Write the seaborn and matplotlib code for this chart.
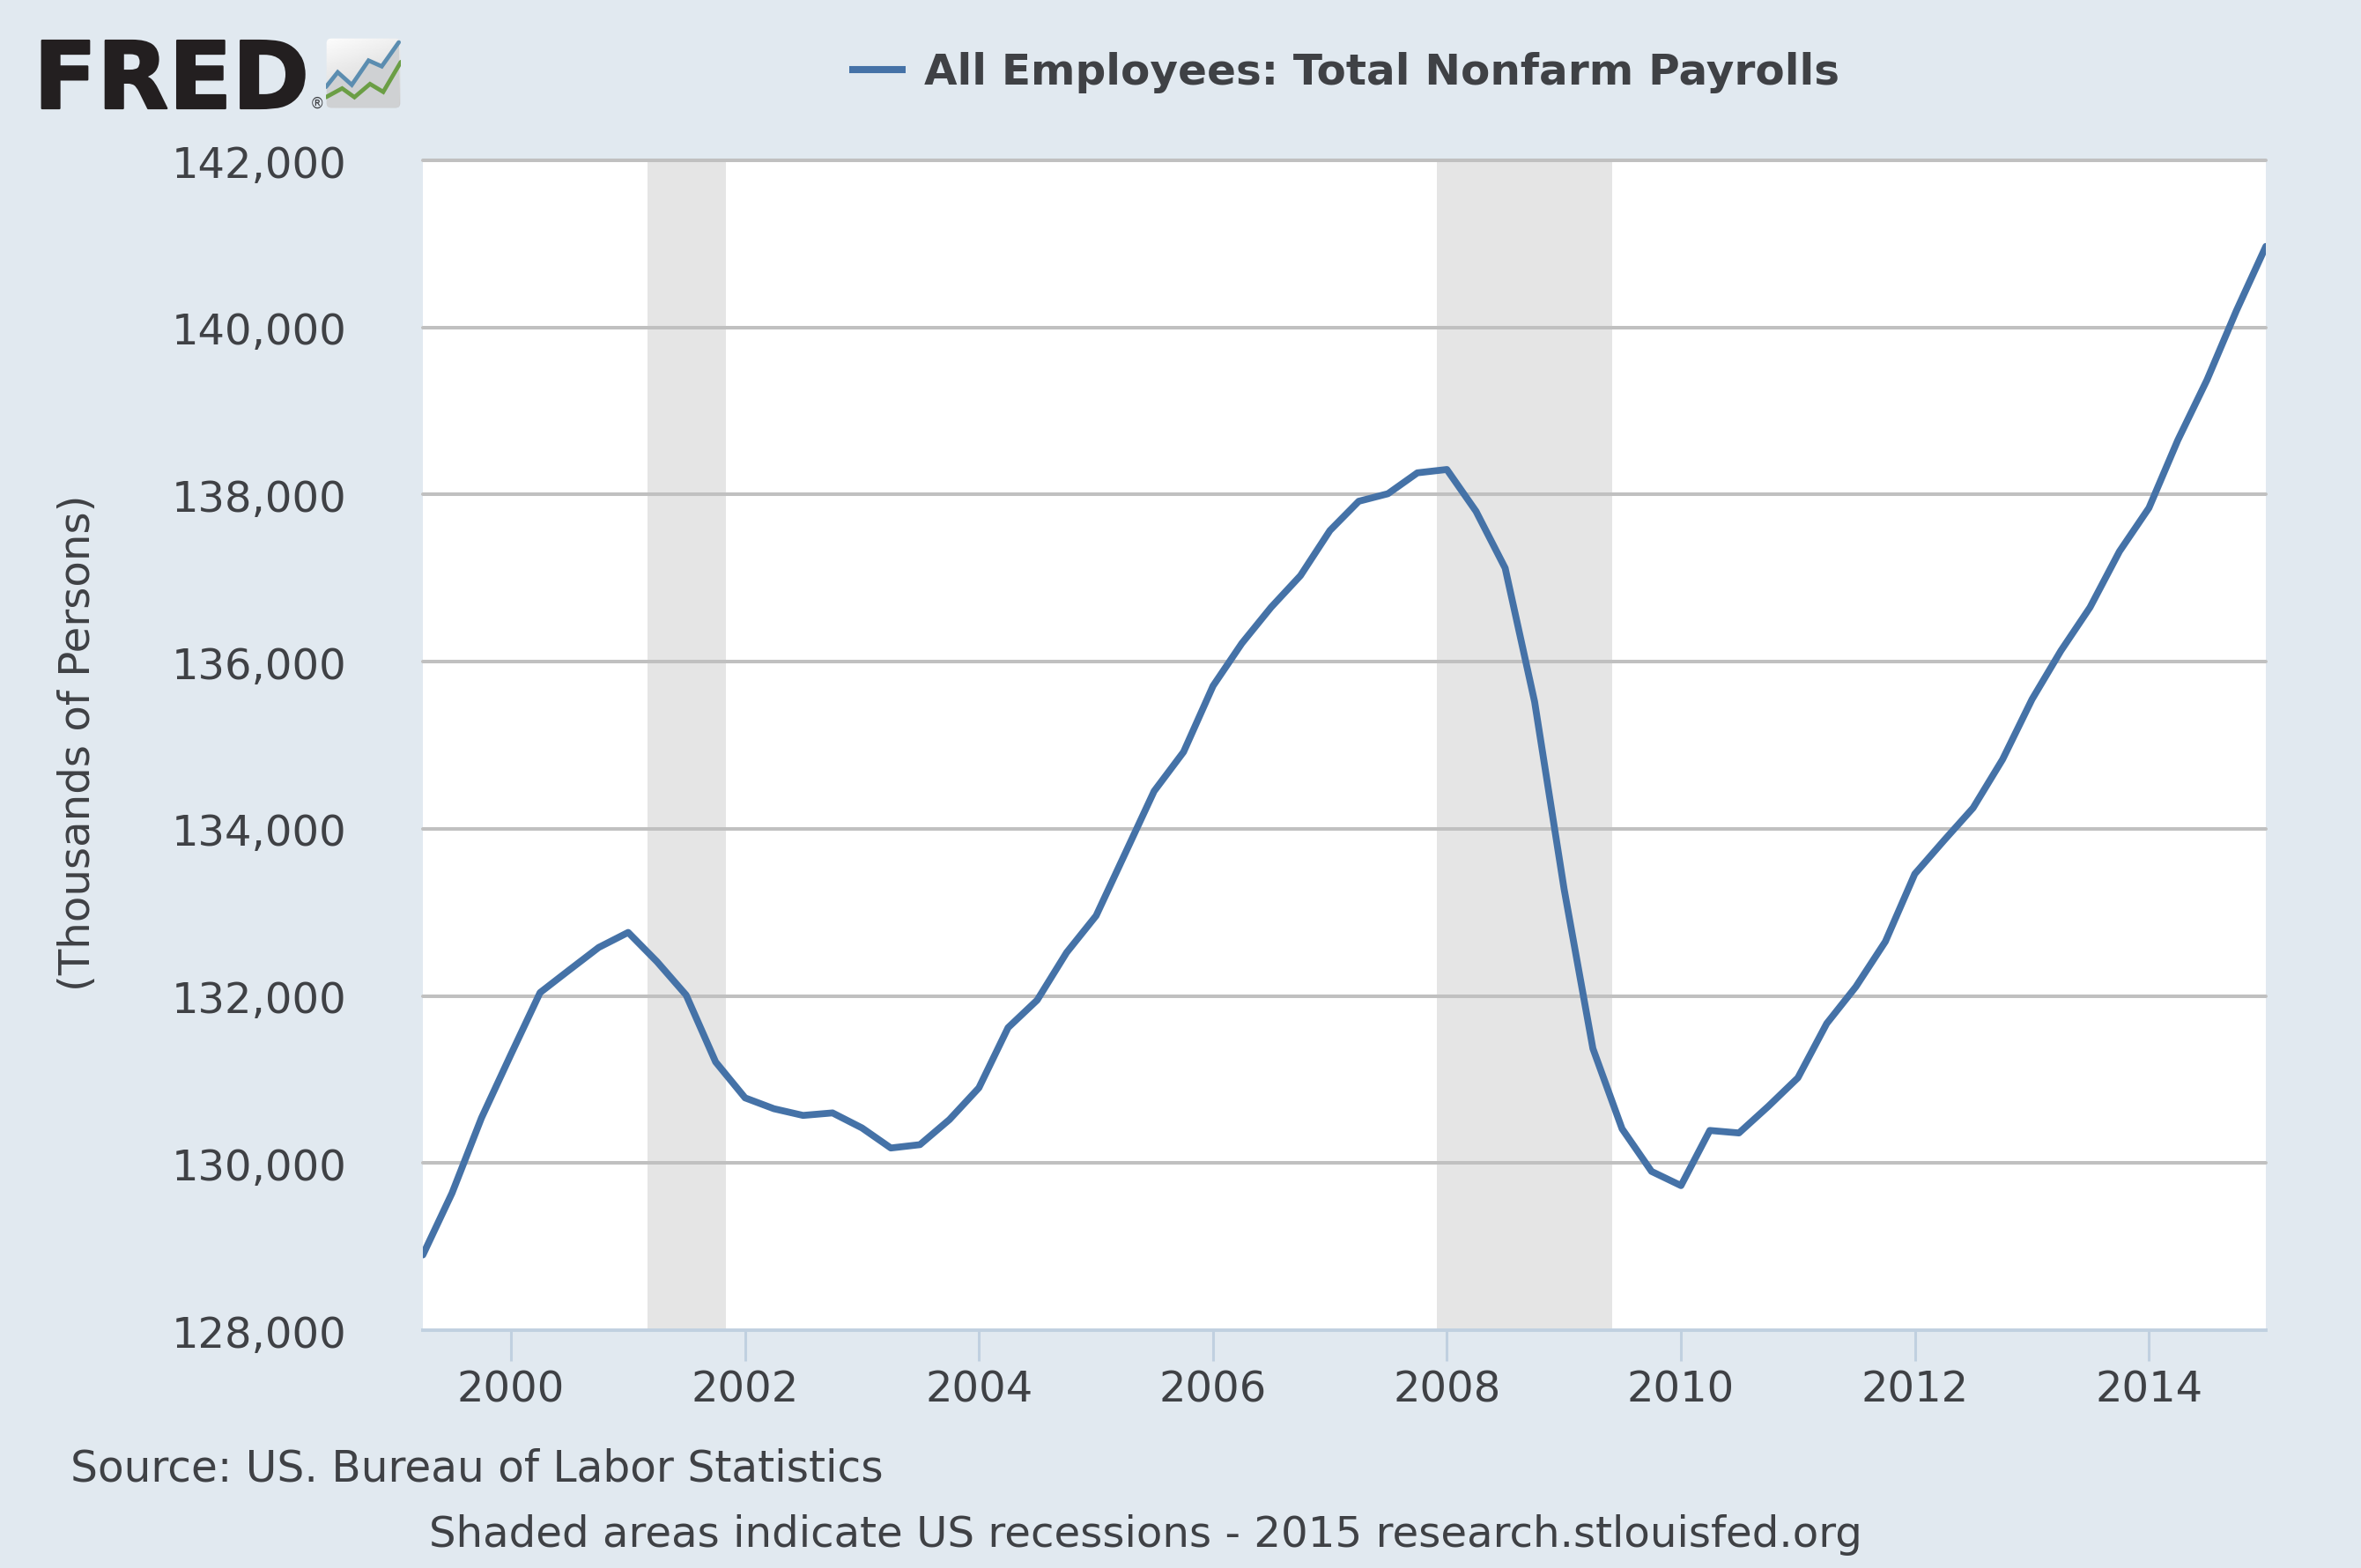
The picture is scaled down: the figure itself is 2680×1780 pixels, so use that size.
import matplotlib
matplotlib.use("Agg")
import matplotlib.pyplot as plt
import matplotlib.dates as mdates
import matplotlib.patheffects as pe
from matplotlib.patches import FancyBboxPatch
from matplotlib.ticker import FuncFormatter
from matplotlib.transforms import ScaledTranslation
import numpy as np
import pandas as pd
import seaborn as sns

START = "1999-04-01"
PAYROLLS = [
    128900, 129640, 130540,
    131300, 132040, 132310, 132580,
    132760, 132410, 132010, 131210,
    130780, 130650, 130570, 130600,
    130420, 130180, 130220, 130520,
    130900, 131620, 131950, 132520,
    132960, 133700, 134450, 134920,
    135710, 136220, 136650, 137030,
    137570, 137920, 138010, 138260,
    138300, 137800, 137120, 135520,
    133280, 131370, 130410, 129900,
    129730, 130390, 130360, 130680,
    131020, 131670, 132110, 132650,
    133460, 133860, 134250, 134830,
    135550, 136130, 136650, 137320,
    137840, 138650, 139370, 140200,
    140970,
]
RECESSIONS = [("2001-03-01", "2001-11-01"), ("2007-12-01", "2009-06-01")]
Y_TICKS = [128000, 130000, 132000, 134000, 136000, 138000, 140000, 142000]
X_YEARS = [2000, 2002, 2004, 2006, 2008, 2010, 2012, 2014]
SERIES_NAME = "All Employees: Total Nonfarm Payrolls"

# little chart in the logo
ICON_BLUE_X = [0, 40, 88, 145, 190, 248]
ICON_BLUE_Y = [73, 123, 80, 163, 143, 225]
ICON_GREEN_X = [0, 55, 97, 150, 195, 255]
ICON_GREEN_Y = [38, 68, 38, 83, 56, 158]

BG = "#E1E9F0"
TEXT = "#3F4145"
AXIS = "#C0D0E0"
GRID = "#C0C0C0"
LINE = "#4572A7"
W, H = 2680, 1780

sns.set_theme(style="white")
plt.rcParams["font.family"] = ["DejaVu Sans"]

df = pd.DataFrame({
    "date": pd.date_range(START, periods=len(PAYROLLS), freq="QS"),
    "value": PAYROLLS,
})

fig = plt.figure(figsize=(W / 200, H / 200), dpi=200, facecolor=BG)
ax = fig.add_axes([480 / W, 1 - 1510 / H, (2572 - 480) / W, (1510 - 182) / H])
ax.set_facecolor("white")

for lo, hi in RECESSIONS:
    ax.axvspan(pd.Timestamp(lo), pd.Timestamp(hi), color="#E5E5E5", lw=0, zorder=1)
for v in Y_TICKS[1:]:
    ax.axhline(v, color=GRID, lw=1.45, zorder=1.5, clip_on=False)

sns.lineplot(data=df, x="date", y="value", color=LINE, lw=2.8, ax=ax,
             label=SERIES_NAME, zorder=3)

ax.set_xlim(df["date"].iloc[0], df["date"].iloc[-1])
ax.set_ylim(Y_TICKS[0], Y_TICKS[-1])
ax.set_yticks(Y_TICKS)
ax.yaxis.set_major_formatter(FuncFormatter(lambda v, _: f"{int(v):,}"))
ax.set_xticks([pd.Timestamp(f"{y}-01-01") for y in X_YEARS])
ax.xaxis.set_major_formatter(mdates.DateFormatter("%Y"))
ax.tick_params(axis="y", length=0, pad=31, labelsize=17.3, labelcolor=TEXT)
ax.tick_params(axis="x", length=12.5, width=1.1, color=AXIS, pad=3.5,
               labelsize=17.3, labelcolor=TEXT, bottom=True)
nudge = ScaledTranslation(0, -0.4 / 72, fig.dpi_scale_trans)
for lab in ax.get_yticklabels():
    lab.set_transform(lab.get_transform() + nudge)
for s in ["left", "right", "top"]:
    ax.spines[s].set_visible(False)
ax.spines["bottom"].set_color(AXIS)
ax.spines["bottom"].set_linewidth(1.4)
ax.set_xlabel("")
ax.set_ylabel("")

leg = ax.legend(loc="center left", bbox_to_anchor=(964 / W, 1 - 82 / H),
                bbox_transform=fig.transFigure, frameon=False, handlelength=1.33,
                handletextpad=0.42, borderpad=0, borderaxespad=0,
                prop={"size": 17.45, "weight": "bold"})
leg.get_texts()[0].set_color(TEXT)
leg.get_lines()[0].set_linewidth(2.9)
leg.get_lines()[0].set_solid_capstyle("butt")

fig.text(89 / W, 1 - 843 / H, "(Thousands of Persons)", rotation=90, ha="center",
         va="center", fontsize=17.4, color=TEXT)
fig.text(80 / W, 1 - 1668 / H, "Source: US. Bureau of Labor Statistics", ha="left",
         va="center", fontsize=17.5, color=TEXT)
fig.text(487 / W, 1 - 1743 / H, "Shaded areas indicate US recessions - 2015 research.stlouisfed.org",
         ha="left", va="center", fontsize=17.37, color=TEXT)

# logo, wordmark plus the little chart icon
fig.text(38 / W, 1 - 123 / H, "FRED", ha="left", va="baseline", fontsize=38,
         fontweight="bold", color="#231F20",
         path_effects=[pe.withStroke(linewidth=0.8, foreground="#231F20")])
fig.text(360 / W, 1 - 118 / H, "®", ha="center", va="center", fontsize=6, color=TEXT)

icon = fig.add_axes([370 / W, 1 - 123 / H, 85 / W, 80 / H])
icon.set_axis_off()
box = FancyBboxPatch((2, 2), 251, 236, boxstyle="round,pad=0,rounding_size=16",
                     fc="none", ec="none", transform=icon.transData)
icon.add_patch(box)
yy, xx = np.mgrid[0:1:64j, 0:1:64j]
shade = 0.84 + 0.15 * yy - 0.05 * xx
im = icon.imshow(shade, cmap="gray", vmin=0, vmax=1, extent=(0, 255, 0, 240),
                 origin="lower", aspect="auto")
im.set_clip_path(box)
under = icon.fill_between(ICON_BLUE_X, 0, ICON_BLUE_Y, color="#CFD1D3", lw=0, zorder=2)
under.set_clip_path(box)
icon.plot(ICON_BLUE_X, ICON_BLUE_Y, color="#5B8DB0", lw=1.7, zorder=3, solid_joinstyle="miter")
icon.plot(ICON_GREEN_X, ICON_GREEN_Y, color="#6B9E45", lw=1.7, zorder=4, solid_joinstyle="miter")
icon.set_xlim(0, 255)
icon.set_ylim(0, 240)

fig.savefig("out.png", dpi=200, facecolor=BG)
